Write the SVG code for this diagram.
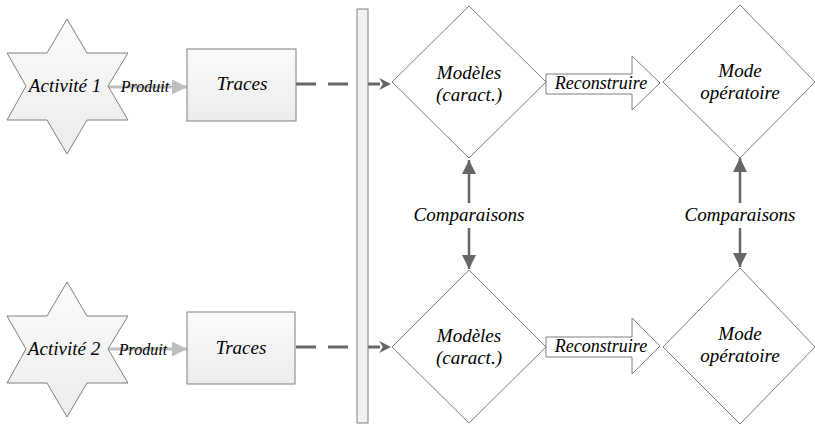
<svg xmlns="http://www.w3.org/2000/svg" width="815" height="426" viewBox="0 0 815 426">
<defs>
<linearGradient id="gfill" x1="0" y1="0" x2="0" y2="1">
<stop offset="0" stop-color="#fbfbfb"/>
<stop offset="1" stop-color="#ececec"/>
</linearGradient>
<marker id="hp" viewBox="0 0 10 10" refX="10" refY="5" markerWidth="6" markerHeight="5" markerUnits="strokeWidth" orient="auto">
<path d="M0,0 L10,5 L0,10 z" fill="#bfbfbf"/>
</marker>
<marker id="hd" viewBox="0 0 10 10" refX="9" refY="5" markerWidth="4" markerHeight="4" markerUnits="strokeWidth" orient="auto">
<path d="M0,0 L10,5 L0,10 L3,5 z" fill="#666"/>
</marker>
<marker id="hc" viewBox="0 0 10 10" refX="10" refY="5" markerWidth="8" markerHeight="5.6" markerUnits="strokeWidth" orient="auto">
<path d="M0,0 L10,5 L0,10 z" fill="#666"/>
</marker>
</defs>
<style>
.star,.box{fill:url(#gfill);stroke:#7f7f7f;stroke-width:1}
.bar{fill:#f2f2f2;stroke:#7f7f7f;stroke-width:1}
.dia{fill:#fff;stroke:#7f7f7f;stroke-width:1}
.blk{fill:#fff;stroke:#7f7f7f;stroke-width:1}
text{fill:#000;text-anchor:middle}
.t18{font-size:19px}
.t16{font-size:18px}
.t15{font-size:16px}
.prod{stroke:#bfbfbf;stroke-width:3;fill:none;stroke-linecap:round}
.dash{stroke:#666;stroke-width:3;fill:none;stroke-dasharray:20 12}
.cmp{stroke:#666;stroke-width:2.5;fill:none}
</style>

<g id="connectors">
<line class="prod" x1="108" y1="87" x2="187" y2="87" marker-end="url(#hp)"/>
<line class="prod" x1="108" y1="349" x2="187" y2="349" marker-end="url(#hp)"/>
<path class="dash" d="M296,84 H390" marker-end="url(#hd)"/>
<path class="dash" d="M296,347 H390" marker-end="url(#hd)"/>
<line class="cmp" x1="469" y1="203" x2="469" y2="160" marker-end="url(#hc)"/>
<line class="cmp" x1="469" y1="228" x2="469" y2="269" marker-end="url(#hc)"/>
<line class="cmp" x1="740" y1="203" x2="740" y2="158" marker-end="url(#hc)"/>
<line class="cmp" x1="740" y1="228" x2="740" y2="267" marker-end="url(#hc)"/>
</g>

<g id="bar">
<rect class="bar" x="357" y="9" width="11" height="414"/>
</g>
<g font-family="Liberation Serif, Times New Roman, serif" font-style="italic">
<g id="conn-labels">
<text class="t15" x="145" y="92">Produit</text>
<text class="t15" x="143" y="355">Produit</text>
<text class="t18" x="469" y="221">Comparaisons</text>
<text class="t18" x="740" y="221">Comparaisons</text>
</g>

<g id="activite1">
<polygon class="star" points="67,19 87,53 128,53 108,86 128,120 87,120 67,154 47,120 7,120 26,86 7,53 47,53"/>
<text class="t18" x="65" y="92">Activité 1</text>
</g>
<g id="activite2">
<polygon class="star" points="67,282 87,316 128,316 108,349 128,383 87,383 67,417 47,383 7,383 26,349 7,316 47,316"/>
<text class="t18" x="64" y="355">Activité 2</text>
</g>

<g id="traces1">
<rect class="box" x="187" y="49" width="109" height="72"/>
<text class="t18" x="242" y="90">Traces</text>
</g>
<g id="traces2">
<rect class="box" x="187" y="312" width="108" height="72"/>
<text class="t18" x="241" y="354">Traces</text>
</g>

<g id="modeles1">
<polygon class="dia" points="469,6 546,82 469,158 392,82"/>
<text class="t18" x="469" y="79">Modèles</text>
<text class="t18" x="469" y="101">(caract.)</text>
</g>
<g id="modeles2">
<polygon class="dia" points="469,270 546,347 469,423 392,347"/>
<text class="t18" x="469" y="342">Modèles</text>
<text class="t18" x="469" y="364">(caract.)</text>
</g>

<g id="mode1">
<polygon class="dia" points="740,5 815,82 740,158 663,82"/>
<text class="t18" x="740" y="77">Mode</text>
<text class="t18" x="740" y="99">opératoire</text>
</g>
<g id="mode2">
<polygon class="dia" points="740,268 815,347 740,424 663,347"/>
<text class="t18" x="740" y="340">Mode</text>
<text class="t18" x="740" y="362">opératoire</text>
</g>

<g id="reconstruire1">
<polygon class="blk" points="546,74 632,74 632,56 660,83 632,110 632,94 546,94"/>
<text class="t16" x="601" y="89">Reconstruire</text>
</g>
<g id="reconstruire2">
<polygon class="blk" points="546,337 632,337 632,318 660,346 632,374 632,357 546,357"/>
<text class="t16" x="601" y="352">Reconstruire</text>
</g>
</g>
</svg>
